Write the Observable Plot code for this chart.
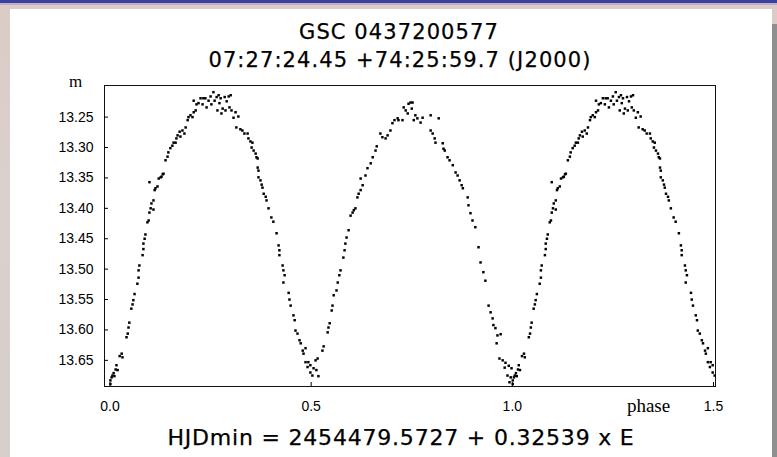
<!DOCTYPE html>
<html><head><meta charset="utf-8">
<script src="https://cdn.jsdelivr.net/npm/d3@7"></script>
<script src="https://cdn.jsdelivr.net/npm/@observablehq/plot@0.6"></script>
<style>
html,body{margin:0;padding:0;}
body{width:777px;height:457px;position:relative;overflow:hidden;background:linear-gradient(180deg,#dccbc7 0%,#dbd0cd 40%,#d6cfcc 100%);}
#topbar{position:absolute;left:0;top:0;width:777px;height:3px;background:#3d3f9e;}
#topline{position:absolute;left:0;top:3px;width:777px;height:2px;background:#b7b0c8;}
#rightbar{position:absolute;left:772px;top:24px;width:5px;height:433px;background:#8f8f8f;}
#panel{position:absolute;left:10px;top:9px;width:762px;height:448px;background:#fff;}
#chart{position:absolute;left:10px;top:70px;}
#texts{position:absolute;left:0;top:0;pointer-events:none;}
</style></head><body>
<div id="topbar"></div><div id="topline"></div><div id="rightbar"></div>
<div id="panel"></div>
<div id="chart"></div>
<svg id="texts" width="777" height="457">
  <g font-family="DejaVu Sans" fill="#000" stroke="#000" stroke-width="0.25" text-anchor="middle">
    <text id="t1" x="399" y="39" font-size="21" letter-spacing="1.1"></text>
    <text id="t2" x="400" y="67" font-size="21" letter-spacing="1.1"></text>
    <text id="cap" x="401" y="445" font-size="22" letter-spacing="0.8"></text>
  </g>
</svg>
<script>
const titleText = "GSC 0437200577";
const subtitleText = "07:27:24.45 +74:25:59.7 (J2000)";
const captionText = "HJDmin = 2454479.5727 + 0.32539 x E";
const yLabel = "m";
const xLabel = "phase";
const yTicks = [13.25, 13.30, 13.35, 13.40, 13.45, 13.50, 13.55, 13.60, 13.65];
const xTicks = [0.0, 0.5, 1.0, 1.5];

const phase = [
0.001,0.001,0.004,0.006,0.009,0.011,0.014,0.016,0.019,0.024,0.029,0.031,0.041,0.044,0.046,0.048,0.053,0.056,0.058,0.061,
0.068,0.071,0.071,0.073,0.081,0.083,0.083,0.086,0.088,0.093,0.096,0.098,0.101,0.108,0.103,0.108,0.098,0.111,0.113,0.118,
0.121,0.126,0.128,0.131,0.133,0.138,0.143,0.145,0.150,0.155,0.158,0.163,0.165,0.168,0.173,0.175,0.180,0.185,0.188,0.193,
0.195,0.200,0.205,0.208,0.213,0.208,0.215,0.220,0.225,0.230,0.232,0.237,0.240,0.245,0.250,0.252,0.257,0.260,0.265,0.267,
0.270,0.272,0.275,0.277,0.280,0.285,0.287,0.290,0.295,0.297,0.300,0.302,0.307,0.312,0.314,0.319,0.324,0.329,0.334,0.342,
0.344,0.349,0.352,0.354,0.357,0.362,0.364,0.367,0.367,0.369,0.369,0.374,0.377,0.379,0.382,0.387,0.389,0.394,0.401,0.406,
0.414,0.419,0.421,0.421,0.429,0.431,0.434,0.431,0.444,0.446,0.449,0.456,0.459,0.461,0.466,0.471,0.474,0.479,0.481,0.486,
0.486,0.491,0.493,0.498,0.498,0.503,0.506,0.511,0.513,0.518,0.516,0.528,0.531,0.541,0.543,0.546,0.551,0.553,0.556,0.563,
0.566,0.570,0.573,0.580,0.583,0.585,0.588,0.593,0.598,0.603,0.606,0.610,0.615,0.618,0.623,0.628,0.623,0.635,0.640,0.648,
0.653,0.660,0.663,0.672,0.677,0.685,0.690,0.697,0.702,0.707,0.715,0.717,0.727,0.730,0.735,0.740,0.742,0.747,0.752,0.750,
0.755,0.759,0.764,0.772,0.777,0.797,0.817,0.797,0.802,0.807,0.809,0.827,0.829,0.832,0.839,0.844,0.852,0.859,0.864,0.869,
0.874,0.877,0.889,0.891,0.896,0.901,0.908,0.916,0.921,0.928,0.933,0.941,0.946,0.951,0.953,0.958,0.963,0.961,0.971,0.968,
0.976,0.981,0.983,0.988,0.991,0.993,0.996,0.998
];
const mag = [
13.689,13.683,13.678,13.675,13.671,13.676,13.665,13.658,13.666,13.643,13.639,13.645,13.612,13.606,13.596,13.588,13.565,13.558,13.551,13.541,
13.524,13.514,13.502,13.494,13.477,13.467,13.458,13.450,13.443,13.423,13.420,13.407,13.400,13.402,13.392,13.387,13.357,13.370,13.367,13.364,
13.351,13.349,13.348,13.344,13.343,13.321,13.315,13.308,13.301,13.297,13.292,13.292,13.285,13.280,13.274,13.282,13.272,13.277,13.267,13.255,
13.250,13.247,13.250,13.242,13.239,13.223,13.229,13.227,13.219,13.229,13.219,13.219,13.234,13.223,13.216,13.229,13.209,13.223,13.217,13.239,
13.214,13.227,13.219,13.244,13.236,13.217,13.239,13.224,13.216,13.234,13.214,13.239,13.251,13.242,13.267,13.249,13.270,13.272,13.277,13.277,
13.285,13.290,13.300,13.292,13.305,13.310,13.316,13.318,13.333,13.338,13.349,13.354,13.361,13.366,13.376,13.381,13.387,13.400,13.415,13.422,
13.441,13.461,13.469,13.477,13.494,13.502,13.510,13.522,13.539,13.550,13.560,13.576,13.584,13.601,13.606,13.617,13.622,13.634,13.639,13.630,
13.653,13.661,13.653,13.670,13.658,13.675,13.663,13.650,13.666,13.676,13.647,13.634,13.627,13.604,13.596,13.589,13.568,13.560,13.543,13.535,
13.522,13.510,13.502,13.481,13.469,13.458,13.448,13.436,13.412,13.407,13.403,13.400,13.382,13.376,13.370,13.362,13.351,13.346,13.334,13.326,
13.316,13.305,13.298,13.277,13.283,13.285,13.280,13.272,13.260,13.255,13.252,13.255,13.255,13.234,13.239,13.244,13.228,13.226,13.226,13.236,
13.255,13.247,13.252,13.259,13.251,13.247,13.252,13.272,13.277,13.285,13.292,13.293,13.302,13.305,13.316,13.321,13.329,13.341,13.346,13.354,
13.362,13.367,13.382,13.395,13.408,13.420,13.431,13.464,13.489,13.505,13.519,13.560,13.571,13.581,13.592,13.597,13.609,13.622,13.607,13.647,
13.650,13.662,13.654,13.675,13.659,13.686,13.678,13.663
];

document.getElementById("t1").textContent = titleText;
document.getElementById("t2").textContent = subtitleText;
document.getElementById("cap").textContent = captionText;

const obs = phase.map((p, i) => ({phase: p, mag: mag[i]}));
const shown = obs.concat(obs.filter(d => d.phase < 0.505).map(d => ({phase: d.phase + 1, mag: d.mag})));

const chart = Plot.plot({
  width: 762,
  height: 360,
  marginLeft: 94,
  marginRight: 57,
  marginTop: 15,
  marginBottom: 44,
  style: {fontFamily: "Liberation Sans", fontSize: "14px", background: "transparent", color: "#000", overflow: "visible"},
  x: {domain: [-0.0137, 1.505]},
  y: {domain: [13.198, 13.693], reverse: true},
  marks: [
    Plot.frame({stroke: "#111", strokeWidth: 1}),
    Plot.axisY({ticks: yTicks, tickFormat: d3.format(".2f"), tickSize: -4, tickPadding: 15, label: null}),
    Plot.axisX({ticks: xTicks, tickFormat: d3.format(".1f"), tickSize: -4, tickPadding: 19, label: null}),
    Plot.dot(shown, {x: "phase", y: "mag", r: 1.4, symbol: "square", fill: "#000", stroke: null}),
    Plot.text([yLabel], {text: d => d, frameAnchor: "top-left", dx: -29, dy: 1, lineAnchor: "bottom", textAnchor: "middle", fontFamily: "Liberation Serif", fontSize: 17, fill: "#000"}),
    Plot.text([xLabel], {text: d => d, frameAnchor: "bottom-right", dx: -67, dy: 25, lineAnchor: "bottom", textAnchor: "middle", fontFamily: "Liberation Serif", fontSize: 19, fill: "#000"})
  ]
});
document.getElementById("chart").appendChild(chart);
</script>
</body></html>
